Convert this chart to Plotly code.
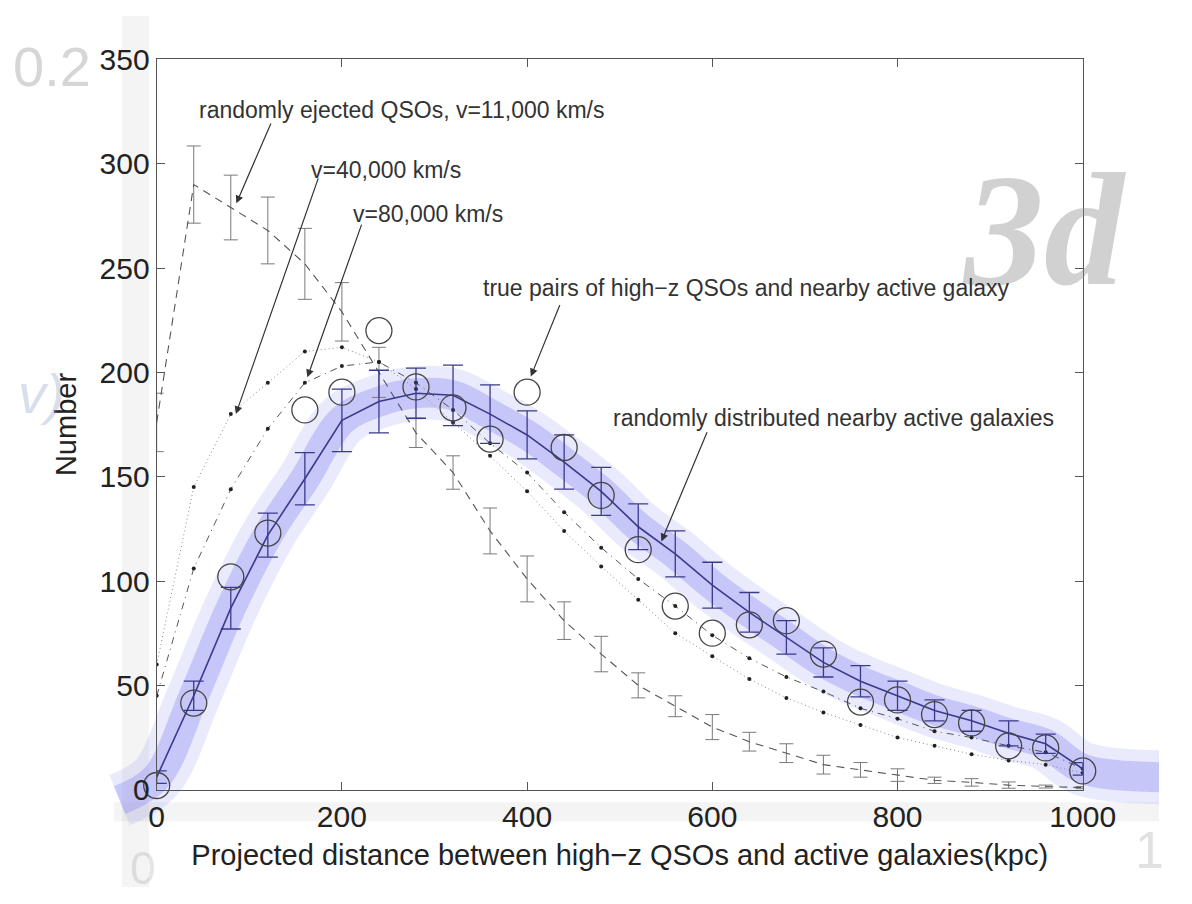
import plotly.graph_objects as go

# ---------------- data ----------------
distance = [0, 40, 80, 120, 160, 200, 240, 280, 320, 360, 400, 440, 480, 520,
            560, 600, 640, 680, 720, 760, 800, 840, 880, 920, 960, 1000]

random_galaxies = [6, 45, 87, 122, 149, 177, 186, 190, 189, 180, 170, 157, 143, 126,
                   113, 98, 85, 73, 61, 52, 45, 38, 33, 27, 22, 10]
random_galaxies_err = [3, 7, 10, 10.5, 12.5, 15, 15, 12, 14.5, 14, 11.5, 13, 11.5, 11,
                       11, 11, 9.5, 8, 7, 7.5, 7, 5, 5, 6, 4.6, 3]

true_pairs = [2, 41.5, 102, 123, 182, 190.5, 220, 193, 183, 168, 190.5, 164, 141, 115,
              88, 75, 79, 81, 65, 42, 43, 36, 32, 21, 20, 9]

ejected_11k = [176, 290, 279, 268, 252, 229, 200, 171, 152, 124, 101, 81, 65, 50,
               40, 30, 23, 17.5, 12, 9.5, 7, 4.5, 3.5, 2.2, 1.5, 1]
ejected_11k_err = [14, 18.5, 15.5, 16, 17, 14, 12, 7, 8, 11, 11, 9, 8.5, 6,
                   5, 6, 4.5, 4.5, 4.5, 3.5, 3, 1.5, 1.8, 1.5, 0.7, 0.5]

ejected_40k = [60, 145, 180, 195, 210, 212, 205, 192, 176, 160, 143, 124, 107, 91,
               75, 64, 53, 44, 37, 31, 25, 21, 17, 14, 12, 8]
ejected_80k = [45, 106, 144, 173, 195, 203, 205, 195, 182, 166, 152, 133, 116, 101,
               88, 74, 63, 54, 47, 39, 34, 28, 25, 21, 18, 10]

# highlight band (scan artefact) following the random-galaxy curve, running past the frame
band_x = [-40] + distance + [1085]
band_y = [-5] + random_galaxies + [6]

x_ticks = [0, 200, 400, 600, 800, 1000]
y_ticks = [0, 50, 100, 150, 200, 250, 300, 350]

# ---------------- geometry ----------------
W, H = 1192, 904
PL, PR, PT, PB = 154, 1113, 45, 803      # plot box in pixels
XR = [0, 1000]
YR = [0, 350]
ppx = (PR - PL) / (XR[1] - XR[0])
ppy = (PB - PT) / (YR[1] - YR[0])
full_xr = [XR[0] - PL / ppx, XR[1] + (W - PR) / ppx]
full_yr = [YR[0] - (H - PB) / ppy, YR[1] + PT / ppy]

dom_x = [PL / W, PR / W]
dom_y = [(H - PB) / H, (H - PT) / H]

FONT = "Liberation Sans, Arial, Helvetica, sans-serif"
BLUE = "#3a3a8c"
GRAY = "#454545"

fig = go.Figure()

# band on a full-page, hidden axis pair (drawn first, underneath)
fig.add_trace(go.Scatter(x=band_x, y=band_y, mode="lines", xaxis="x", yaxis="y",
                         line=dict(color="rgba(150,150,245,0.20)", width=54, shape="spline"),
                         hoverinfo="skip", showlegend=False))
fig.add_trace(go.Scatter(x=band_x, y=band_y, mode="lines", xaxis="x", yaxis="y",
                         line=dict(color="rgba(140,140,240,0.38)", width=30, shape="spline"),
                         hoverinfo="skip", showlegend=False))

# randomly ejected QSOs v=11,000 (dashed with error bars)
fig.add_trace(go.Scatter(x=distance, y=ejected_11k, mode="lines", xaxis="x2", yaxis="y2",
                         line=dict(color="#555555", width=1.1, dash="8px,6px"),
                         error_y=dict(type="data", array=ejected_11k_err, color="#7a7a7a",
                                      thickness=1, width=7),
                         showlegend=False))
# v=40,000 (dotted with dots)
fig.add_trace(go.Scatter(x=distance, y=ejected_40k, mode="lines+markers", xaxis="x2", yaxis="y2",
                         line=dict(color="#888888", width=1, dash="1px,3px"),
                         marker=dict(color="#222222", size=4),
                         showlegend=False))
# v=80,000 (dash-dot with dots)
fig.add_trace(go.Scatter(x=distance, y=ejected_80k, mode="lines+markers", xaxis="x2", yaxis="y2",
                         line=dict(color="#555555", width=1, dash="7px,5px,1px,5px"),
                         marker=dict(color="#222222", size=4),
                         showlegend=False))
# randomly distributed nearby active galaxies
fig.add_trace(go.Scatter(x=distance, y=random_galaxies, mode="lines", xaxis="x2", yaxis="y2",
                         line=dict(color=BLUE, width=1.6),
                         error_y=dict(type="data", array=random_galaxies_err, color=BLUE,
                                      thickness=1.3, width=10),
                         showlegend=False))
# true pairs
fig.add_trace(go.Scatter(x=distance, y=true_pairs, mode="markers", xaxis="x2", yaxis="y2",
                         marker=dict(symbol="circle-open", size=26, color=GRAY,
                                     line=dict(color=GRAY, width=1.3)),
                         cliponaxis=False, showlegend=False))

ann = []

# scan watermarks (ghosts of a neighbouring figure) - added first so they sit underneath
def ghost(text, px, py, size, color, anchor="center", family="Liberation Serif, serif"):
    ann.append(dict(text=text, x=px / W, y=1 - py / H, xref="paper", yref="paper",
                    xanchor=anchor, yanchor="middle", showarrow=False,
                    font=dict(family=family, size=size, color=color)))

ghost("<b><i>3d</i></b>", 1160, 222, 160, "rgba(140,140,140,0.40)", anchor="right")
ghost("0.2", 88, 52, 56, "rgba(120,120,120,0.30)", anchor="right", family=FONT)
ghost("<i>v)</i>", 35, 392, 56, "rgba(120,135,190,0.28)", family=FONT)
ghost("0", 140, 884, 46, "rgba(120,120,120,0.20)", family=FONT)
ghost("1", 1182, 866, 52, "rgba(120,120,120,0.22)", family=FONT)

def label(text, x, y):
    ann.append(dict(text=text, x=x, y=y, xref="x2", yref="y2", xanchor="left",
                    yanchor="middle", showarrow=False,
                    font=dict(family=FONT, size=23, color="#333333")))

def arrow(x, y, ax, ay):
    ann.append(dict(text="", x=x, y=y, ax=ax, ay=ay, xref="x2", yref="y2",
                    axref="x2", ayref="y2", showarrow=True, arrowhead=2,
                    arrowsize=1.3, arrowwidth=1.2, arrowcolor="#333333"))

label("randomly ejected QSOs, v=11,000 km/s", 43, 325.5)
label("v=40,000 km/s", 165, 297)
label("v=80,000 km/s", 210, 276)
label("true pairs of high\u2212z QSOs and nearby active galaxy", 350, 240.5)
label("randomly distributed nearby active galaxies", 491, 178)

arrow(86, 281, 124, 320)
arrow(85.5, 180, 175, 293.7)
arrow(162.7, 197.6, 221.8, 271.5)
arrow(404, 198, 436, 233)
arrow(545, 119, 595, 172)

shapes = [
    dict(type="rect", xref="paper", yref="paper", x0=118 / W, x1=146 / W, y0=0, y1=1,
         fillcolor="rgba(0,0,0,0.045)", line=dict(width=0), layer="below"),
    dict(type="rect", xref="paper", yref="paper", x0=110 / W, x1=1, y0=1 - 836 / H, y1=1 - 816 / H,
         fillcolor="rgba(0,0,0,0.045)", line=dict(width=0), layer="below"),
]

fig.update_layout(
    width=W, height=H,
    margin=dict(l=0, r=0, t=0, b=0),
    paper_bgcolor="white",
    plot_bgcolor="rgba(0,0,0,0)",
    annotations=ann,
    shapes=shapes,
    xaxis=dict(domain=[0, 1], range=full_xr, visible=False, fixedrange=True),
    yaxis=dict(domain=[0, 1], range=full_yr, visible=False, fixedrange=True),
    xaxis2=dict(domain=dom_x, range=XR, anchor="y2", tickvals=x_ticks,
                ticks="inside", ticklen=8, tickcolor="#555",
                showline=True, linecolor="#555", linewidth=1.2, mirror="ticks",
                showgrid=False, zeroline=False,
                tickfont=dict(family=FONT, size=30, color="#222"),
                title=dict(text="Projected distance between high\u2212z QSOs and active galaxies(kpc)",
                           font=dict(family=FONT, size=29, color="#222"), standoff=12)),
    yaxis2=dict(domain=dom_y, range=YR, anchor="x2", tickvals=y_ticks,
                ticks="inside", ticklen=8, tickcolor="#555",
                showline=True, linecolor="#555", linewidth=1.2, mirror="ticks",
                showgrid=False, zeroline=False,
                tickfont=dict(family=FONT, size=30, color="#222"),
                title=dict(text="Number", font=dict(family=FONT, size=29, color="#222"),
                           standoff=14)),
)

fig.write_html("out.html")
